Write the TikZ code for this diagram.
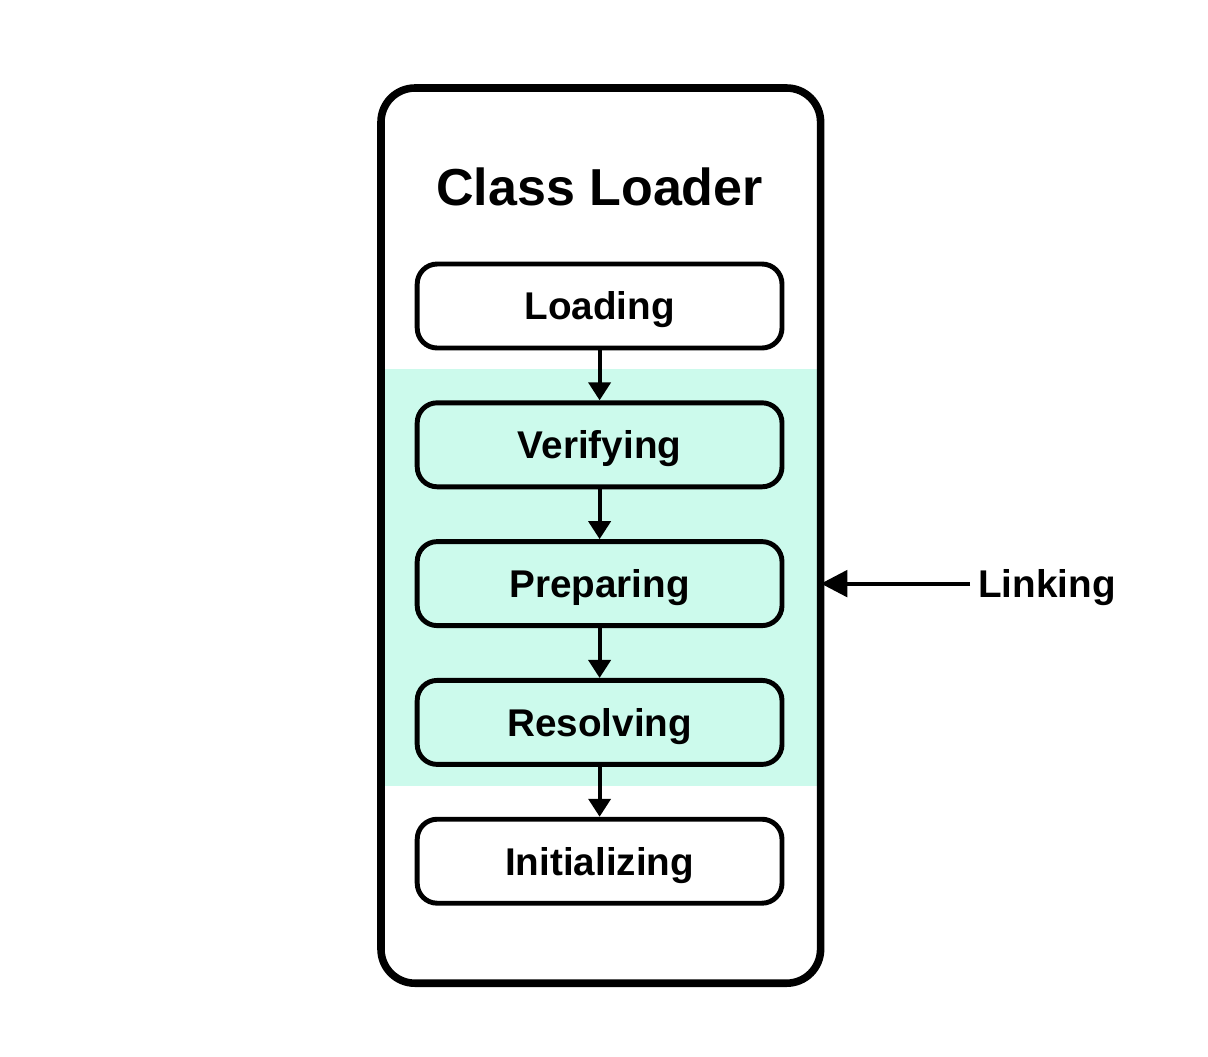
\documentclass[tikz,border=0pt]{standalone}
\usepackage{fontspec}
\setmainfont{Liberation Sans}
\usetikzlibrary{positioning, arrows.meta}
\definecolor{mint}{HTML}{CCFAEC}
\tikzstyle{arrow} = [line width=2.8pt,-{Triangle[length=0.45cm,width=0.55cm]}]
\tikzstyle{bigarrow} = [line width=2.8pt,-{Triangle[length=0.66cm,width=0.66cm]}]
\tikzstyle{stage} = [rectangle, rounded corners=0.5cm, minimum width=9.12cm, minimum height=2.1cm, text height=19.8pt, text depth=0pt, text centered, draw=black, line width=3.5pt, fill=white, font=\fontsize{27.5}{33}\selectfont\bfseries]
\tikzstyle{linkstage} = [stage, fill=mint]
\tikzstyle{loader} = [rectangle, rounded corners=0.85cm, minimum width=10.99cm, minimum height=22.38cm, draw=black, line width=5.4pt]
\tikzstyle{band} = [rectangle, minimum width=10.99cm, minimum height=10.43cm, fill=mint, inner sep=0pt]
\tikzstyle{heading} = [font=\fontsize{37}{44}\selectfont\bfseries]
\tikzstyle{linktext} = [inner sep=0.2cm, text height=19.8pt, text depth=0pt, font=\fontsize{27.5}{33}\selectfont\bfseries]

\begin{document}
\begin{tikzpicture}[node distance=3.47cm]
\useasboundingbox (0,0) rectangle (30.2,-26.4);

\node (linkband) [band] at (15.02,-14.44) {};
\node (classloader) [loader] at (15.02,-13.39) {};

\node (loading) [stage] at (14.99,-7.65) {Loading};
\node (title) [heading, above of=loading, node distance=2.98cm] {Class Loader};
\node (verifying) [linkstage, below of=loading] {Verifying};
\node (preparing) [linkstage, below of=verifying] {Preparing};
\node (resolving) [linkstage, below of=preparing] {Resolving};
\node (initializing) [stage, below of=resolving] {Initializing};

\node (linking) [linktext, anchor=west] at (24.25,-14.59) {Linking};

\draw [arrow] (loading) -- (verifying);
\draw [arrow] (verifying) -- (preparing);
\draw [arrow] (preparing) -- (resolving);
\draw [arrow] (resolving) -- (initializing);

\draw [bigarrow, shorten >=-2.5pt] (linking.west) -- (linking.west -| classloader.east);
\end{tikzpicture}
\end{document}
